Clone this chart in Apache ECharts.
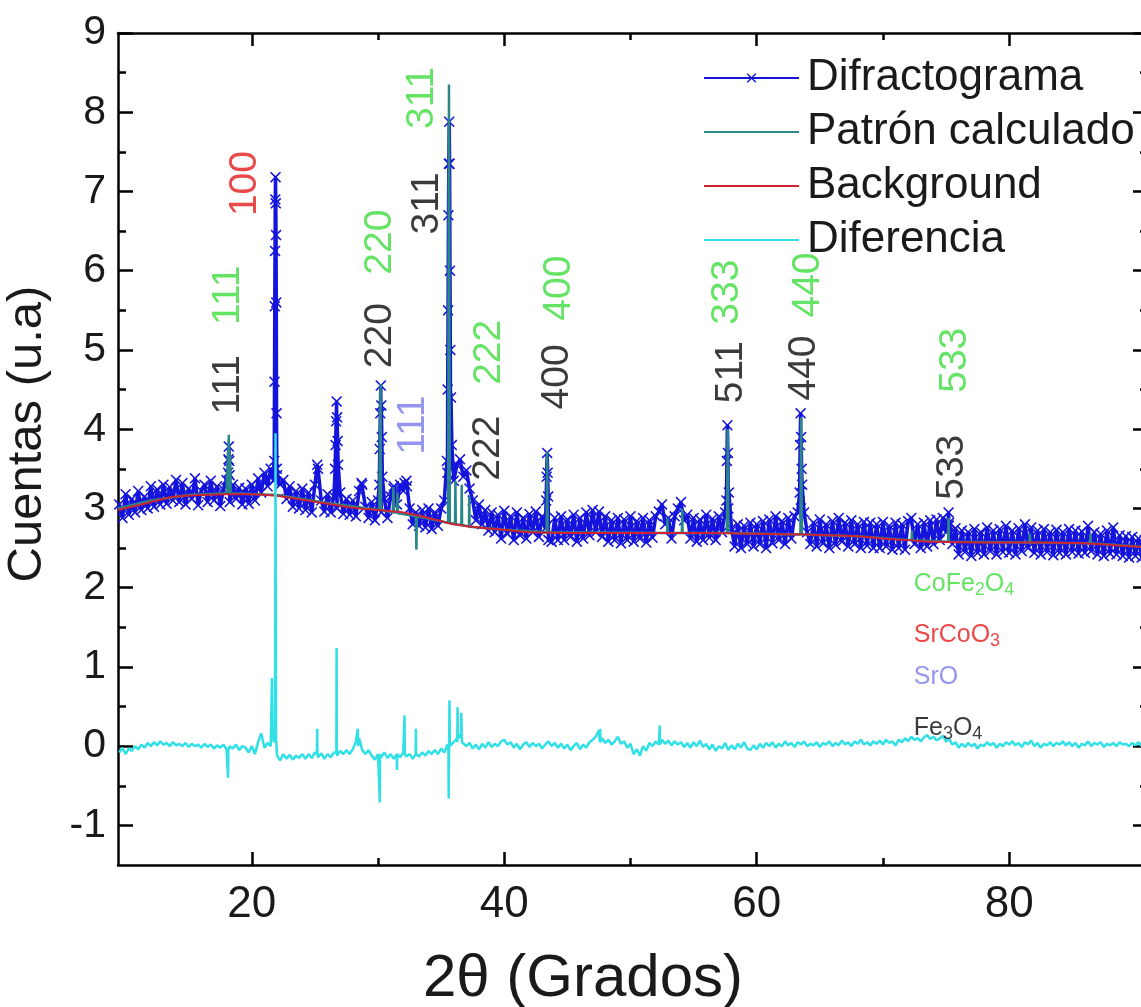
<!DOCTYPE html>
<html><head><meta charset="utf-8">
<script src="https://cdn.jsdelivr.net/npm/echarts@6/dist/echarts.min.js"></script>
<style>html,body{margin:0;padding:0;background:#fff}#c{width:1141px;height:1007px}</style>
</head><body><div id="c"></div>
<script>
// ---------- DATA ----------
const scanStart = 9.5, scanStep = 0.25;   // 2θ grid of the scan
const obsScan = [
3.05,2.88,3.18,2.92,3.12,2.95,3.22,2.98,3.15,3.0,3.28,3.02,3.24,3.05,3.3,3.06,3.27,3.1,3.36,3.08,
3.32,3.05,3.25,3.12,3.38,3.04,3.22,3.3,3.08,3.35,3.1,3.28,3.03,3.24,3.36,3.08,3.3,3.12,3.26,3.05,
3.25,3.06,3.3,3.1,3.38,3.2,3.45,3.28,3.5,3.35,3.42,3.3,3.36,3.12,3.28,3.02,3.22,3.0,3.25,2.98,
3.2,2.95,3.3,3.5,3.1,2.96,3.18,2.95,3.15,3.0,3.2,2.93,3.12,2.92,3.1,2.9,3.22,3.3,3.02,2.88,
3.08,2.85,3.1,2.95,3.12,2.88,3.15,3.28,3.05,3.3,3.22,3.35,3.0,2.8,2.95,2.78,2.98,2.76,3.0,2.74,
2.95,2.78,3.0,3.1,3.45,3.5,3.35,3.55,3.62,3.4,3.48,3.25,3.1,2.85,3.05,2.8,2.98,2.72,2.95,2.7,
2.92,2.62,2.97,2.68,2.9,2.6,2.95,2.66,2.88,2.62,2.93,2.7,2.96,2.64,2.9,2.75,2.6,2.58,2.88,2.6,
2.9,2.6,2.86,2.64,2.92,2.58,2.88,2.62,2.95,2.66,2.98,2.7,2.96,2.64,2.9,2.58,2.85,2.6,2.88,2.56,
2.86,2.6,2.9,2.58,2.84,2.62,2.88,2.57,2.85,2.63,2.9,2.96,3.05,2.8,2.88,2.62,2.9,3.0,3.08,2.85,
2.92,2.62,2.88,2.58,2.86,2.6,2.92,2.63,2.87,2.6,2.9,2.7,2.95,3.0,2.75,2.52,2.8,2.5,2.78,2.55,
2.82,2.52,2.8,2.55,2.84,2.5,2.86,2.56,2.9,2.6,2.84,2.55,2.88,2.62,2.9,2.95,3.0,2.95,2.7,2.55,
2.82,2.52,2.86,2.56,2.8,2.5,2.84,2.54,2.88,2.58,2.82,2.52,2.85,2.55,2.8,2.5,2.83,2.53,2.82,2.5,
2.8,2.5,2.83,2.52,2.78,2.48,2.82,2.5,2.8,2.48,2.84,2.88,2.55,2.8,2.5,2.82,2.52,2.85,2.55,2.86,
2.6,2.88,2.7,2.82,2.55,2.75,2.42,2.72,2.45,2.7,2.4,2.74,2.44,2.7,2.42,2.76,2.46,2.72,2.42,2.74,
2.45,2.78,2.44,2.72,2.42,2.75,2.46,2.8,2.5,2.76,2.44,2.72,2.42,2.74,2.45,2.7,2.41,2.73,2.44,2.7,
2.42,2.74,2.45,2.72,2.43,2.71,2.44,2.78,2.46,2.7,2.42,2.68,2.4,2.72,2.43,2.76,2.42,2.66,2.4,2.65,
2.38,2.64,2.4,2.62,2.38,2.6,2.4
];
const obsPeaks = [
[18.12,3.45],[18.15,3.62],[18.18,3.78],[18.21,3.6],[18.24,3.42],
[21.78,3.6],[21.8,4.6],[21.82,5.55],[21.84,6.25],[21.86,6.9],[21.88,7.18],[21.9,6.85],[21.92,6.45],[21.94,5.6],[21.96,4.2],[21.98,3.5],
[25.18,3.55],
[26.6,3.5],[26.64,3.8],[26.68,4.1],[26.72,4.35],[26.76,4.15],[26.8,3.85],[26.84,3.55],
[28.7,3.32],
[30.1,3.3],[30.14,3.75],[30.18,4.2],[30.22,4.55],[30.26,4.3],[30.3,3.9],[30.34,3.4],
[31.22,3.25],[32.1,3.32],[32.3,3.28],
[35.46,3.6],[35.52,4.5],[35.55,5.5],[35.58,6.7],[35.61,7.35],[35.64,7.88],[35.67,7.35],[35.7,6.0],[35.73,5.0],[35.78,4.4],[35.85,3.8],
[43.32,3.1],[43.36,3.4],[43.4,3.7],[43.44,3.45],[43.48,3.15],
[57.6,3.1],[57.64,3.6],[57.68,4.05],[57.72,3.7],[57.8,3.2],
[63.4,3.2],[63.44,3.8],[63.48,4.2],[63.52,3.9],[63.56,3.5],[63.6,3.3],
[75.16,2.8],[75.2,2.95],[75.22,2.78]
];
const calcPts = [
[9.4,3.0],[12,3.1],[15,3.17],[18.0,3.19],[18.14,3.19],[18.18,3.93],[18.22,3.19],[18.26,3.19],[18.29,3.68],[18.32,3.19],
[22,3.17],[26,3.07],[30.1,2.98],[30.16,2.98],[30.2,4.57],[30.24,2.98],[31.18,2.95],[31.22,3.27],[31.26,2.95],
[31.5,2.95],[31.54,3.2],[31.58,2.94],[33.0,2.9],[33.04,2.48],[33.08,2.9],[35.55,2.82],[35.62,8.35],[35.69,2.82],
[36.1,2.8],[36.13,3.35],[36.16,2.8],[36.6,2.79],[36.63,3.3],[36.66,2.79],[37.2,2.77],[37.23,3.15],[37.26,2.77],
[40,2.73],[43.36,2.7],[43.4,3.72],[43.44,2.7],[52.9,2.69],[52.93,2.88],[52.96,2.69],[54.07,2.69],[54.1,3.0],[54.13,2.69],
[57.64,2.69],[57.7,4.0],[57.76,2.69],[63.46,2.67],[63.52,4.15],[63.58,2.67],[68,2.65],[72.27,2.6],[72.3,2.72],[72.33,2.6],
[75.17,2.58],[75.2,2.88],[75.23,2.58],[81.61,2.57],[81.64,2.68],[81.67,2.57],[86.41,2.56],[86.44,2.68],[86.47,2.56],[91,2.51]
];
const bgPts = [
[9.4,2.98],[11,3.04],[12,3.08],[13,3.12],[14,3.15],[16,3.17],[18,3.18],[20,3.18],[22,3.16],[24,3.11],[26,3.06],[28,3.01],
[30,2.98],[32,2.95],[34,2.88],[36,2.8],[38,2.76],[40,2.73],[42,2.7],[46,2.69],[50,2.69],[56,2.69],[60,2.68],[64,2.67],
[68,2.65],[70,2.62],[72,2.6],[74,2.58],[78,2.57],[82,2.57],[86,2.56],[88,2.54],[91,2.51]
];
const diffScan = [
-0.08,-0.02,-0.1,-0.03,-0.06,0.0,-0.04,0.02,-0.02,0.04,0.0,0.05,0.01,0.06,0.02,0.04,0.0,0.05,0.01,0.03,
0.0,0.04,-0.01,0.03,0.0,0.02,-0.02,0.03,-0.01,0.02,-0.03,0.01,-0.02,0.02,-0.04,0.0,-0.03,0.02,-0.05,0.0,
-0.02,-0.08,0.0,-0.1,0.05,0.16,-0.02,0.04,0.0,0.05,-0.12,-0.18,-0.1,-0.16,-0.11,-0.17,-0.12,-0.15,-0.1,-0.16,
-0.1,-0.15,-0.08,-0.14,-0.09,-0.16,-0.1,-0.14,-0.08,-0.12,-0.06,-0.1,-0.05,-0.1,-0.04,0.06,0.1,-0.05,-0.1,-0.05,
-0.12,-0.17,-0.1,-0.14,-0.08,-0.15,-0.1,-0.16,-0.09,-0.14,-0.08,-0.13,-0.1,-0.16,-0.09,-0.13,-0.08,-0.12,-0.06,-0.1,
-0.05,-0.1,-0.03,-0.08,0.02,-0.02,0.05,0.1,0.15,0.05,0.0,0.04,-0.03,0.02,-0.04,0.03,-0.02,0.05,-0.01,0.03,
0.0,0.06,0.08,0.02,0.05,-0.02,0.03,-0.04,0.02,0.05,-0.01,0.04,0.0,0.03,-0.03,0.02,0.06,0.0,0.04,-0.02,
0.03,-0.03,0.02,-0.05,0.0,0.04,-0.04,0.02,-0.02,0.05,0.08,0.12,0.2,0.1,0.04,0.08,0.02,0.06,0.12,0.03,
0.06,-0.02,0.03,-0.1,-0.04,-0.12,0.0,-0.06,0.04,0.0,0.06,0.02,0.08,0.03,0.07,0.01,0.06,0.02,0.05,-0.01,
0.04,-0.02,0.05,0.0,0.07,-0.01,0.03,-0.04,0.02,-0.06,0.0,-0.03,0.04,-0.05,0.01,-0.04,0.03,-0.02,0.05,-0.03,
-0.05,0.01,-0.04,0.03,-0.02,0.04,0.0,0.05,-0.02,0.03,0.0,0.06,0.01,0.04,-0.01,0.05,0.02,0.06,0.0,0.03,
0.01,0.05,-0.01,0.04,0.02,0.06,0.0,0.04,0.01,0.07,0.02,0.05,0.0,0.06,0.03,0.08,0.02,0.05,0.01,0.06,
0.03,0.07,0.02,0.08,0.04,0.06,0.01,0.08,0.05,0.1,0.06,0.12,0.08,0.1,0.06,0.11,0.14,0.09,0.12,0.07,
0.1,0.13,0.06,0.09,0.02,0.05,-0.02,0.03,-0.01,0.04,0.0,0.03,-0.03,0.02,0.0,0.05,0.01,0.04,-0.02,0.03,
0.0,0.05,0.02,0.06,0.01,0.04,-0.01,0.05,0.02,0.07,0.0,0.04,-0.02,0.03,0.01,0.05,0.0,0.04,0.02,0.06,
0.01,0.05,0.0,0.04,-0.02,0.03,0.01,0.06,0.0,0.04,0.02,0.05,-0.01,0.03,0.01,0.04,0.0,0.05,0.02,0.03,
0.0,0.04,0.01,0.05,0.0,0.03,0.02
];
const diffSpikes = [
[18.1,-0.05],[18.12,-0.4],[18.14,-0.05],[20.8,0.17],
[21.56,0.0],[21.6,0.86],[21.64,0.15],[21.84,0.15],[21.88,3.95],[21.92,0.1],
[25.16,-0.1],[25.18,0.22],[25.2,-0.1],[26.7,-0.08],[26.72,1.24],[26.74,-0.08],
[28.38,0.05],[28.4,0.22],[28.42,0.0],[30.12,-0.1],[30.14,-0.71],[30.16,-0.1],
[31.48,-0.1],[31.5,-0.3],[31.52,-0.1],[32.08,-0.1],[32.1,0.39],[32.12,-0.1],
[32.98,-0.1],[33.0,0.22],[33.02,-0.1],
[35.58,-0.05],[35.6,-0.66],[35.63,0.0],[35.66,0.58],[35.69,0.0],
[36.28,0.05],[36.3,0.49],[36.34,0.1],[36.58,0.1],[36.6,0.42],[36.64,0.05],
[47.58,0.05],[47.6,0.22],[47.62,0.05],[52.3,0.02],[52.32,0.26],[52.34,0.02]
];
// Miller-index annotations: text, 2θ, y, phase
const hklText  = ['111','111','100','220','220','311','311','111','222','222','400','400','333','511','440','440','533','533'];
const hklX     = [18.12,18.12,19.46,30.16,30.16,33.88,33.49,32.78,38.7,38.8,44.19,44.34,57.7,58.0,64.07,63.8,75.72,75.5];
const hklY     = [4.56,5.69,7.1,5.18,6.36,6.85,8.18,4.05,3.76,4.97,4.66,5.78,5.73,4.72,5.82,4.77,4.87,3.52];
const hklPhase = ['Fe3O4','CoFe2O4','SrCoO3','Fe3O4','CoFe2O4','Fe3O4','CoFe2O4','SrO','Fe3O4','CoFe2O4','Fe3O4','CoFe2O4','CoFe2O4','Fe3O4','CoFe2O4','Fe3O4','CoFe2O4','Fe3O4'];
const phaseNames = ['CoFe2O4','SrCoO3','SrO','Fe3O4'];
const phaseRich  = ['CoFe{s|2}O{s|4}','SrCoO{s|3}','SrO','Fe{s|3}O{s|4}'];
const phaseX = [72.4,72.4,72.4,72.4];
const phaseY = [2.05,1.4,0.87,0.23];
const xMajor = [20,40,60,80], xMinor = [30,50,70];
const yMajor = [-1,0,1,2,3,4,5,6,7,8,9];
const yMinor = [-0.5,0.5,1.5,2.5,3.5,4.5,5.5,6.5,7.5,8.5];
const seriesNames = ['Difractograma','Patrón calculado','Background','Diferencia'];

// ---------- BUILD ----------
const FONT = '"Liberation Sans", Arial, sans-serif';
const phaseColor = {CoFe2O4:'#3fdc3f', SrCoO3:'#e41b1b', SrO:'#7b7bec', Fe3O4:'#0a0a0a'};
const byX = (a,b)=>a[0]-b[0];
const obsData = obsScan.map((y,i)=>[scanStart+i*scanStep,y]).concat(obsPeaks).sort(byX);
const diffData = diffScan.map((y,i)=>[scanStart+i*scanStep,y]).concat(diffSpikes).sort(byX);
const XMIN = 9.4, XMAX = 91, YMIN = -1.5, YMAX = 9;
const X_SYM = 'path://M0,1L1,0L5,4L9,0L10,1L6,5L10,9L9,10L5,6L1,10L0,9L4,5Z';

function xAx(pos, ticks, len, showLine, labels){
  return {type:'value', min:XMIN, max:XMAX, position:pos,
    axisLine:{show:showLine, onZero:false, lineStyle:{color:'#000', width:2.5}},
    axisTick:{show:true, inside:true, length:len, customValues:ticks, lineStyle:{color:'#000', width:2.5}},
    axisLabel: labels ? {show:true, customValues:ticks, fontSize:44, color:'#1a1a1a', fontFamily:FONT, margin:18} : {show:false},
    splitLine:{show:false}};
}
function yAx(pos, ticks, len, showLine, labels){
  return {type:'value', min:YMIN, max:YMAX, position:pos,
    axisLine:{show:showLine, onZero:false, lineStyle:{color:'#000', width:2.5}},
    axisTick:{show:true, inside:true, length:len, customValues:ticks, lineStyle:{color:'#000', width:2.5}},
    axisLabel: labels ? {show:true, customValues:ticks, fontSize:41, color:'#1a1a1a', fontFamily:FONT, margin:12} : {show:false},
    splitLine:{show:false}};
}
const xMain = xAx('bottom', xMajor, 13, true, true);
xMain.name = '2θ (Grados)'; xMain.nameLocation = 'middle'; xMain.nameGap = 84;
xMain.nameTextStyle = {fontSize:60, color:'#1a1a1a', fontFamily:FONT, padding:[0,100,0,0]};
const yMain = yAx('left', yMajor, 15, true, true);
yMain.name = 'Cuentas (u.a)'; yMain.nameLocation = 'middle'; yMain.nameGap = 66; yMain.nameRotate = 90;
yMain.nameTextStyle = {fontSize:49, color:'#1a1a1a', fontFamily:FONT, padding:[0,0,0,30]};

const hklData = hklText.map((t,i)=>({value:[hklX[i],hklY[i]], name:t, label:{color:phaseColor[hklPhase[i]]}}));
const phaseData = phaseNames.map((n,i)=>({value:[phaseX[i],phaseY[i]], name:phaseRich[i],
  label:{color:phaseColor[n], rich:{s:{fontSize:18, color:phaseColor[n], fontFamily:FONT, padding:[12,0,0,0]}}}}));
const noDot = {color:'rgba(0,0,0,0)', borderColor:'rgba(0,0,0,0)', borderWidth:0};

const option = {
  animation:false,
  backgroundColor:'#fff',
  grid:{left:118, top:33, right:-7, bottom:142, containLabel:false, outerBoundsMode:'none'},
  xAxis:[xMain, xAx('bottom', xMinor, 7, false, false), xAx('top', xMajor, 13, true, false), xAx('top', xMinor, 7, false, false)],
  yAxis:[yMain, yAx('left', yMinor, 8, false, false), yAx('right', yMajor, 15, true, false), yAx('right', yMinor, 8, false, false)],
  legend:{data:[{name:seriesNames[0]},{name:seriesNames[1], itemStyle:noDot},{name:seriesNames[2], itemStyle:noDot},{name:seriesNames[3], itemStyle:noDot}],
    orient:'vertical', left:698, top:51, itemWidth:95, itemHeight:12, itemGap:10,
    textStyle:{fontSize:44, color:'#1a1a1a', fontFamily:FONT, padding:[0,0,0,3], lineHeight:44}},
  series:[
    {name:seriesNames[0], type:'line', data:obsData, z:2, symbol:X_SYM, symbolSize:11, showSymbol:true, showAllSymbol:true,
      lineStyle:{color:'#1414dc', width:3.5}, itemStyle:{color:'#1414dc'}, sampling:null},
    {name:seriesNames[1], type:'line', data:calcPts, z:3, showSymbol:false, symbol:'none',
      lineStyle:{color:'#2b8686', width:2.5}, itemStyle:{color:'#2b8686'}},
    {name:seriesNames[2], type:'line', data:bgPts, z:4, showSymbol:false, symbol:'none', smooth:0.3,
      lineStyle:{color:'#cc2233', width:2}, itemStyle:{color:'#cc2233'}},
    {name:seriesNames[3], type:'line', data:diffData, z:5, showSymbol:false, symbol:'none',
      lineStyle:{color:'#30e0e6', width:2.5}, itemStyle:{color:'#30e0e6'}},
    {name:'hkl', type:'scatter', data:hklData, z:6, symbolSize:1, itemStyle:{color:'rgba(0,0,0,0)'}, silent:true,
      label:{show:true, position:'inside', rotate:90, formatter:'{b}', fontSize:39, fontFamily:FONT}},
    {name:'phases', type:'scatter', data:phaseData, z:7, symbolSize:1, itemStyle:{color:'rgba(0,0,0,0)'}, silent:true,
      label:{show:true, position:'right', distance:0, formatter:'{b}', fontSize:25, fontFamily:FONT}}
  ]
};
const chart = echarts.init(document.getElementById('c'), null, {renderer:'canvas'});
chart.setOption(option);
</script></body></html>
